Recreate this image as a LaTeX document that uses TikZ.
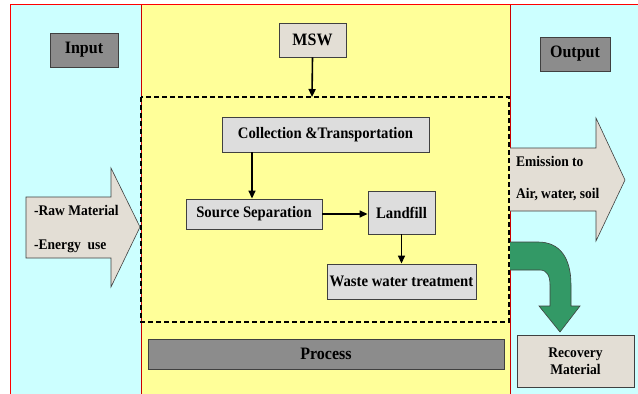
\documentclass[tikz,border=0pt]{standalone}
\usepackage{fontspec}
\setmainfont[FakeStretch=0.92]{Liberation Serif}
\usetikzlibrary{arrows.meta}
\definecolor{cyanbg}{HTML}{CCFFFF}
\definecolor{yellowbg}{HTML}{FFFF99}
\definecolor{boxgray}{HTML}{DDDDDD}
\definecolor{beige}{HTML}{E3DED5}
\definecolor{darkbox}{HTML}{8C8C8C}
\definecolor{edge}{HTML}{404040}
\definecolor{greenarr}{HTML}{339966}
\begin{document}
\begin{tikzpicture}[x=1pt,y=-1pt,
  lbl/.style={font=\bfseries\fontsize{16}{18}\selectfont},
  sidel/.style={font=\bfseries\fontsize{14.7}{17}\selectfont,anchor=west,inner sep=0pt},
  bigl/.style={font=\bfseries\fontsize{17.4}{19}\selectfont},
  pbox/.style={draw=edge,line width=0.9pt,fill=boxgray,inner sep=0pt,lbl},
  hbox/.style={draw=edge,line width=0.9pt,fill=darkbox,inner sep=0pt,bigl},
  arr/.style={line width=1.6pt,-{Triangle[length=8pt,width=7pt]}},
  bigarrow/.style={draw=edge,line width=0.6pt,fill=beige}]
\useasboundingbox (0,0) rectangle (638,394);
\fill[white] (0,0) rectangle (638,394);
\fill[cyanbg] (10,4.5) rectangle (141,394);
\fill[yellowbg] (141,4.5) rectangle (510,394);
\fill[cyanbg] (510,4.5) rectangle (638,394);
\draw[red,line width=1pt] (10,394) -- (10,4.5) -- (638,4.5);
\draw[red!80!black,line width=0.6pt] (141,4.5) -- (141,394) (510,4.5) -- (510,394);

% big arrows
\draw[bigarrow] (26,197) -- (111,197) -- (111,168) -- (140,227) -- (111,287) -- (111,258) -- (26,258) -- cycle;
\draw[bigarrow] (510,148) -- (596,148) -- (596,118) -- (625,180) -- (596,241) -- (596,211) -- (510,211);
\draw[draw=edge,line width=0.6pt,fill=greenarr] (510,242) -- (538,242) .. controls (560,242) and (571,258) .. (571,285) -- (571,306) -- (580,306) -- (560,332) -- (539,306) -- (550,306) -- (550,285) .. controls (550,276) and (547,270) .. (540,270) -- (510,270);

% dashed process boundary
\draw[line width=1.3pt,dash pattern=on 5pt off 3pt] (141,97) rectangle (509,322);
\coordinate (dtop) at (312,97);

% nodes
\node[hbox,minimum width=68pt,minimum height=34pt] (input) at (84,50) {Input};
\node[hbox,minimum width=70pt,minimum height=34pt] (output) at (575,54) {Output};
\node[pbox,fill=beige,bigl,minimum width=67pt,minimum height=34pt] (msw) at (312.5,40) {MSW};
\node[pbox,minimum width=207pt,minimum height=35pt] (coll) at (325.5,134.5) {Collection \&Transportation};
\node[pbox,minimum width=136pt,minimum height=30pt] (ss) at (254,214) {Source Separation};
\node[pbox,minimum width=67pt,minimum height=43pt] (land) at (401.5,212.5) {Landfill};
\node[pbox,minimum width=149pt,minimum height=35pt] (waste) at (401.5,281.5) {Waste water treatment};
\node[hbox,minimum width=356pt,minimum height=30pt] (proc) at (326,354) {Process};
\node[pbox,fill=beige,minimum width=117pt,minimum height=52pt,align=center,font=\bfseries\fontsize{14.7}{17}\selectfont] (rec) at (575.5,361) {Recovery\\Material};

% arrow texts
\node[sidel] (raw) at (34,210) {-Raw Material};
\node[sidel] (energy) at (34,246) {-Energy\ \ use};
\node[sidel] (emis) at (516,161) {Emission to};
\node[sidel] (air) at (516,195) {Air, water, soil};

% connectors
\draw[arr] (msw.south) -- (dtop);
\draw[arr] (coll.south -| 252,0) -- (ss.north -| 252,0);
\draw[arr] (ss.east) -- (ss.east -| land.west);
\draw[arr] (land.south) -- (waste.north);
\end{tikzpicture}
\end{document}
